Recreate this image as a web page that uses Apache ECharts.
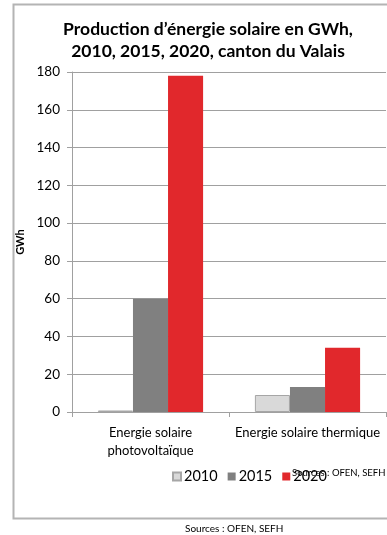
<!DOCTYPE html>
<html>
<head>
<meta charset="utf-8">
<script src="https://cdn.jsdelivr.net/npm/echarts@6/dist/echarts.min.js"></script>
<style>
  html, body { margin: 0; padding: 0; background: #fff; }
  #chart { width: 387px; height: 535px; }
</style>
</head>
<body>
<div id="chart"></div>
<script>
// Production of solar energy (GWh), canton du Valais
const categories = ['Energie solaire\nphotovoltaïque', 'Energie solaire thermique'];
const years = ['2010', '2015', '2020'];
const values2010 = [0.8, 9];
const values2015 = [60, 13.3];
const values2020 = [178, 34];
const yTicks = [0, 20, 40, 60, 80, 100, 120, 140, 160, 180];

const FONT = 'Lato, "Open Sans", sans-serif';
const chart = echarts.init(document.getElementById('chart'), null, { renderer: 'canvas' });

const seriesStyle = [
  { name: years[0], data: values2010, color: '#d9d9d9', border: '#a6a6a6', bw: 1 },
  { name: years[1], data: values2015, color: '#808080', border: '#808080', bw: 0 },
  { name: years[2], data: values2020, color: '#e1282c', border: '#e1282c', bw: 0 }
];

chart.setOption({
  animation: false,
  title: {
    text: 'Production d\u2019énergie solaire en GWh,\n2010, 2015, 2020, canton du Valais',
    left: 203, top: 13, textAlign: 'center',
    textStyle: { fontFamily: FONT, fontWeight: 'bold', fontSize: 17.5, lineHeight: 22, color: '#000' }
  },
  legend: {
    data: years,
    left: 167, top: 464,
    itemWidth: 8, itemHeight: 8, itemGap: 10,
    icon: 'rect',
    textStyle: { fontFamily: FONT, fontSize: 14.5, color: '#000', padding: [0, 0, 0, -2] }
  },
  grid: { left: 72, right: 1, top: 72, bottom: 123, containLabel: false },
  xAxis: {
    type: 'category',
    data: categories,
    axisLine: { lineStyle: { color: '#a0a0a0', width: 1 } },
    axisTick: { show: true, length: 5, lineStyle: { color: '#a0a0a0' } },
    axisLabel: { interval: 0, fontFamily: FONT, fontSize: 13, color: '#000', margin: 12, lineHeight: 18 }
  },
  yAxis: {
    type: 'value',
    min: yTicks[0], max: yTicks[yTicks.length - 1], interval: 20,
    name: 'GWh', nameLocation: 'middle', nameGap: 42, nameRotate: 90,
    nameTextStyle: { fontFamily: FONT, fontWeight: 'bold', fontSize: 11, color: '#000' },
    axisLine: { show: true, lineStyle: { color: '#a0a0a0', width: 1 } },
    axisTick: { show: true, length: 5, lineStyle: { color: '#a0a0a0' } },
    axisLabel: { fontFamily: FONT, fontSize: 13.5, color: '#000', margin: 12 },
    splitLine: { lineStyle: { color: '#a0a0a0', width: 1 } }
  },
  series: seriesStyle.map(s => ({
    name: s.name,
    type: 'bar',
    data: s.data,
    barGap: '0%',
    barCategoryGap: '33%',
    itemStyle: { color: s.color, borderColor: s.border, borderWidth: s.bw }
  })),
  graphic: [
    {
      type: 'polyline',
      shape: { points: [[387, 4.5], [13.5, 4.5], [13.5, 518.5], [387, 518.5]] },
      style: { stroke: '#b4b4b4', lineWidth: 2, fill: null },
      silent: true
    },
    {
      type: 'text', left: 292, top: 468,
      style: { text: 'Sources : OFEN, SEFH', font: '9.5px ' + FONT, fill: '#000' }
    },
    {
      type: 'text', left: 185, top: 524,
      style: { text: 'Sources : OFEN, SEFH', font: '10px ' + FONT, fill: '#000' }
    }
  ]
});
</script>
</body>
</html>
